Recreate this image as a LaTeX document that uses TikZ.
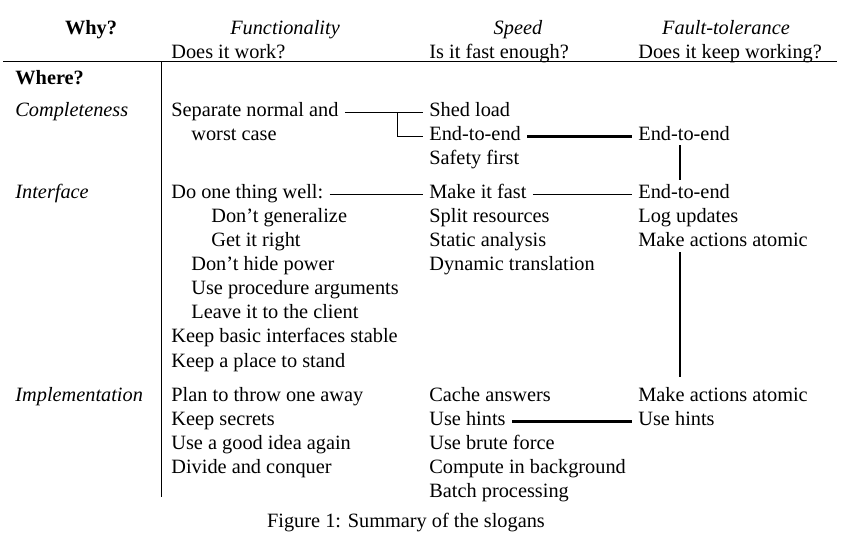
\documentclass[tikz,border=0pt]{standalone}
\usepackage{fontspec}
\setmainfont{Liberation Serif}
\usetikzlibrary{calc}
\AtBeginDocument{\fontsize{10.2}{12}\selectfont}
\tikzset{slogan/.style={anchor=base west,inner sep=0pt,text height=6.5pt,text depth=2pt},
  head/.style={anchor=base,inner sep=0pt,font=\itshape},
  rule/.style={line width=0.5bp},
  link/.style={line width=0.5bp,shorten <=3bp,shorten >=3bp},
  strong/.style={line width=1.4bp,shorten <=3bp,shorten >=3bp}}

\begin{document}
\begin{tikzpicture}[x=0.5bp,y=-0.5bp]
  \useasboundingbox (0,0) rectangle (850,543);
  % headings
  \node (why) [anchor=base,inner sep=0pt,font=\bfseries] at (91,35) {Why?};
  \node (func) [head] at (285,35) {Functionality};
  \node (speed) [head] at (518,35) {Speed};
  \node (fault) [head] at (726,35) {Fault-tolerance};
  \node (fq) [slogan] at (171,59) {Does it work?};
  \node (sq) [slogan] at (429,59) {Is it fast enough?};
  \node (tq) [slogan] at (638,59) {Does it keep working?};
  \node (where) [slogan,font=\bfseries] at (15,85) {Where?};
  \node (compl) [slogan,font=\itshape] at (15,117) {Completeness};
  \node (iface) [slogan,font=\itshape] at (15,199) {Interface};
  \node (impl) [slogan,font=\itshape] at (15,402) {Implementation};
  \coordinate (rulel) at (3,61.5);
  \coordinate (ruler) at (837,61.5);
  \coordinate (colt) at (161,61.5);
  \coordinate (colb) at (161,497);
  \draw [rule] (rulel) -- (ruler);
  \draw [rule] (colt) -- (colb);
  % completeness
  \node (f1) [slogan] at (171,117) {Separate normal and};
  \node (f2) [slogan] at (191,141) {worst case};
  \node (s1) [slogan] at (429,117) {Shed load};
  \node (s2) [slogan] at (429,141) {End-to-end};
  \node (s3) [slogan] at (429,165) {Safety first};
  \node (t2) [slogan] at (638,141) {End-to-end};
  % interface
  \node (f4) [slogan] at (171,199) {Do one thing well:};
  \node (f5) [slogan] at (211,223) {Don't generalize};
  \node (f6) [slogan] at (211,247) {Get it right};
  \node (f7) [slogan] at (191,271) {Don't hide power};
  \node (f8) [slogan] at (191,295) {Use procedure arguments};
  \node (f9) [slogan] at (191,319) {Leave it to the client};
  \node (f10) [slogan] at (171,343) {Keep basic interfaces stable};
  \node (f11) [slogan] at (171,368) {Keep a place to stand};
  \node (s4) [slogan] at (429,199) {Make it fast};
  \node (s5) [slogan] at (429,223) {Split resources};
  \node (s6) [slogan] at (429,247) {Static analysis};
  \node (s7) [slogan] at (429,271) {Dynamic translation};
  \node (t4) [slogan] at (638,199) {End-to-end};
  \node (t5) [slogan] at (638,223) {Log updates};
  \node (t6) [slogan] at (638,247) {Make actions atomic};
  % implementation
  \node (f12) [slogan] at (171,402) {Plan to throw one away};
  \node (f13) [slogan] at (171,426) {Keep secrets};
  \node (f14) [slogan] at (171,450) {Use a good idea again};
  \node (f15) [slogan] at (171,474) {Divide and conquer};
  \node (s12) [slogan] at (429,402) {Cache answers};
  \node (s13) [slogan] at (429,426) {Use hints};
  \node (s14) [slogan] at (429,450) {Use brute force};
  \node (s15) [slogan] at (429,474) {Compute in background};
  \node (s16) [slogan] at (429,498) {Batch processing};
  \node (t12) [slogan] at (638,402) {Make actions atomic};
  \node (t13) [slogan] at (638,426) {Use hints};
  \node (cap) [anchor=base,inner sep=0pt] at (406,528) {Figure 1: Summary of the slogans};
  % links
  \coordinate (fork) at (397,0);
  \coordinate (spine) at (680,0);
  \draw [link] (f1.east) -- (s1.west);
  \draw [link,shorten <=0pt] (fork |- f1.east) |- (s2.west);
  \draw [strong] (s2.east) -- (t2.west);
  \draw [strong,shorten <=0bp,shorten >=3bp] (t2.south -| spine) -- (t4.north -| spine);
  \draw [strong,shorten <=0.5bp,shorten >=6bp] (t6.south -| spine) -- (t12.north -| spine);
  \draw [link] (f4.east) -- (s4.west);
  \draw [link] (s4.east) -- (t4.west);
  \draw [strong] (s13.east) -- (t13.west);
\end{tikzpicture}
\end{document}
